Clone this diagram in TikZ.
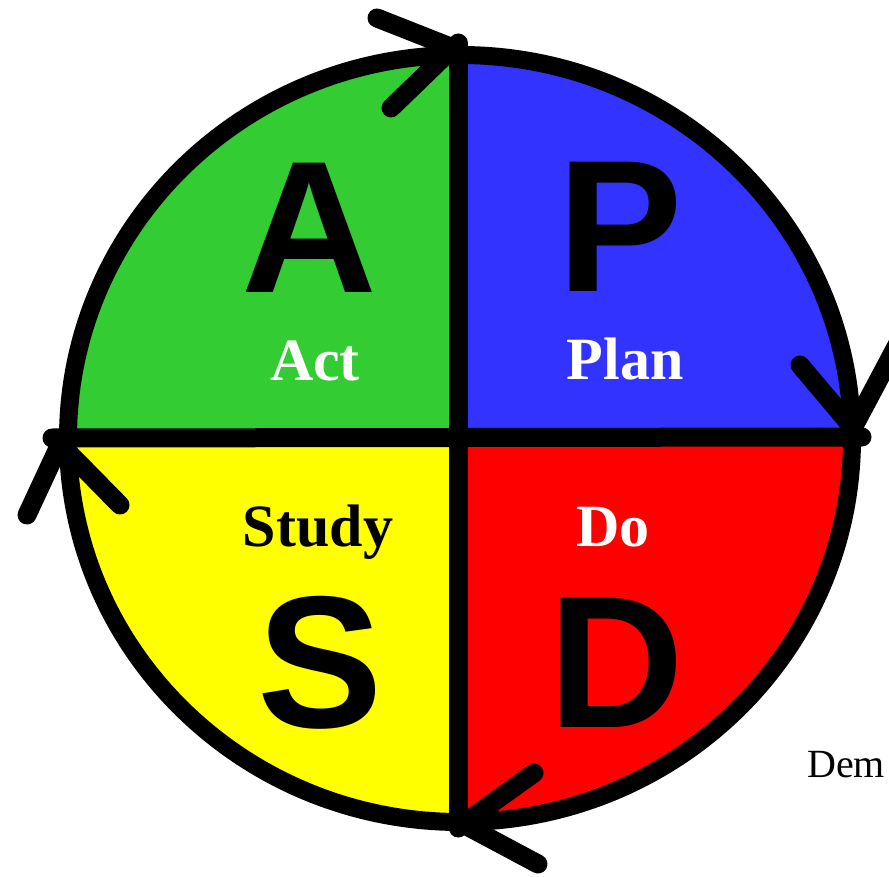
\documentclass[tikz,border=0pt]{standalone}
\usepackage{fontspec}
\setmainfont{Liberation Serif}
\newfontfamily\bigsans{Liberation Sans}
\definecolor{actgreen}{HTML}{33CC33}
\definecolor{planblue}{HTML}{3333FF}
\definecolor{dored}{HTML}{FF0000}
\definecolor{studyyellow}{HTML}{FFFF00}
\tikzset{
  heavy/.style={line width=19pt, line cap=round, line join=round, draw=black},
  bigletter/.style={anchor=base, inner sep=0pt, font=\bigsans\bfseries\fontsize{188}{188}\selectfont, text=black},
  phaselabel/.style={anchor=base, inner sep=0pt, font=\bfseries\fontsize{60}{60}\selectfont},
  credit/.style={anchor=base west, inner sep=0pt, font=\fontsize{40}{40}\selectfont, text=black}
}
\begin{document}
\begin{tikzpicture}[x=1pt,y=-1pt]
\useasboundingbox (0,0) rectangle (889,877);
\coordinate (C) at (460,438.5);
\begin{scope}
  \clip (C) ellipse [x radius=392, y radius=383.5];
  \fill[actgreen] (C) rectangle (0,0);
  \fill[planblue] (C) rectangle (889,0);
  \fill[dored] (C) rectangle (889,877);
  \fill[studyyellow] (C) rectangle (0,877);
\end{scope}
% outline
\draw[heavy, line width=18pt] (C) ellipse [x radius=392, y radius=383.5];
% dividers
\coordinate (vtop) at (458,43);
\coordinate (vbot) at (458,828);
\coordinate (hleft) at (52,438);
\coordinate (hright) at (862,437);
\draw[heavy] (vtop) -- (vbot);
\draw[heavy] (hleft) -- (hright);
% arrow at top
\coordinate (tipT) at (453,48);
\coordinate (bT1) at (377,18);
\coordinate (bT2) at (391,108);
\draw[heavy] (bT1) -- (tipT) -- (bT2);
% arrow at right
\coordinate (tipR) at (853,428);
\coordinate (bR1) at (800,365);
\coordinate (bR2) at (905,330);
\draw[heavy] (bR1) -- (tipR) -- (bR2);
% arrow at bottom
\coordinate (tipB) at (463,824);
\coordinate (bB1) at (534,773);
\coordinate (bB2) at (538,864);
\draw[heavy] (bB1) -- (tipB) -- (bB2);
% arrow at left
\coordinate (tipL) at (60,444);
\coordinate (bL1) at (27,515);
\coordinate (bL2) at (120,505);
\draw[heavy] (bL1) -- (tipL) -- (bL2);
% letters
\node[bigletter] (A) at (309,293) {A};
\node[bigletter] (P) at (620,292) {P};
\node[bigletter] (S) at (320,727) {S};
\node[bigletter] (D) at (616,727) {D};
% labels
\node[phaselabel, text=white] (act) at (315,380) {Act};
\node[phaselabel, text=white] (plan) at (625,379) {Plan};
\node[phaselabel, text=black] (study) at (318,546) {Study};
\node[phaselabel, text=white] (do) at (613,546) {Do};
\node[credit] (dem) at (807,777) {Dem};
\end{tikzpicture}
\end{document}
